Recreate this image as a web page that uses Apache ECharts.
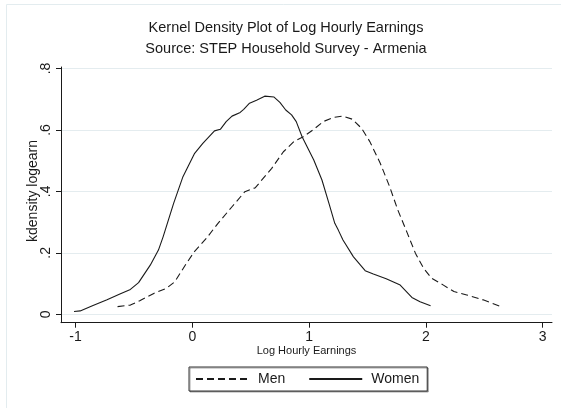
<!DOCTYPE html>
<html>
<head>
<meta charset="utf-8">
<script src="https://cdn.jsdelivr.net/npm/echarts@6/dist/echarts.min.js"></script>
<style>
html,body{margin:0;padding:0;background:#fff;}
#c{width:561px;height:408px;}
</style>
</head>
<body>
<div id="c"></div>
<script>
// Tick labels / categories
const xTicks = [-1, 0, 1, 2, 3];
const yTicks = [0, 0.2, 0.4, 0.6, 0.8];
const seriesNames = ['Men', 'Women'];

// Kernel density estimates: [log hourly earnings, density]
const menX = [-0.64,-0.53,-0.45,-0.33,-0.22,-0.15,-0.05,0.02,0.12,0.22,0.34,0.45,0.54,0.59,0.68,0.78,0.87,0.95,1.04,1.12,1.21,1.29,1.37,1.45,1.52,1.61,1.69,1.76,1.84,1.91,1.98,2.05,2.15,2.24,2.35,2.49,2.63];
const menY = [0.025,0.030,0.044,0.068,0.085,0.106,0.166,0.205,0.247,0.296,0.350,0.399,0.412,0.435,0.475,0.529,0.562,0.578,0.602,0.627,0.641,0.645,0.635,0.605,0.562,0.491,0.415,0.339,0.265,0.199,0.150,0.117,0.095,0.074,0.063,0.047,0.027];

const womenX = [-1.047,-0.96,-0.85,-0.73,-0.62,-0.53,-0.46,-0.36,-0.29,-0.25,-0.16,-0.08,0.02,0.09,0.19,0.24,0.29,0.34,0.41,0.44,0.49,0.55,0.62,0.70,0.75,0.80,0.85,0.89,0.94,1.04,1.11,1.17,1.22,1.25,1.29,1.38,1.48,1.55,1.66,1.78,1.88,1.95,2.04];
const womenY = [0.008,0.011,0.029,0.047,0.066,0.081,0.103,0.160,0.209,0.252,0.361,0.448,0.524,0.556,0.597,0.602,0.627,0.645,0.657,0.667,0.687,0.697,0.710,0.707,0.690,0.665,0.649,0.627,0.578,0.502,0.437,0.361,0.296,0.274,0.242,0.187,0.142,0.131,0.116,0.095,0.055,0.041,0.028];

const FONT = '"Liberation Sans", Arial, Helvetica, sans-serif';
const INK = '#1a1a1a';

const chart = echarts.init(document.getElementById('c'), null, {renderer: 'canvas'});

const pair = (xs, ys) => xs.map((x, i) => [x, ys[i]]);

const option = {
  backgroundColor: '#ffffff',
  animation: false,
  graphic: [
    {type: 'line', shape: {x1: 6.5, y1: 4.5, x2: 561, y2: 4.5}, style: {stroke: '#e3ecef', lineWidth: 1}, silent: true},
    {type: 'line', shape: {x1: 6.5, y1: 4.5, x2: 6.5, y2: 408}, style: {stroke: '#e3ecef', lineWidth: 1}, silent: true},
    {type: 'text', x: 286, y: 28, style: {text: 'Kernel Density Plot of Log Hourly Earnings', font: '14.5px ' + FONT, fill: INK, align: 'center', verticalAlign: 'middle'}},
    {type: 'text', x: 286, y: 49, style: {text: 'Source: STEP Household Survey - Armenia', font: '14.5px ' + FONT, fill: INK, align: 'center', verticalAlign: 'middle'}},
    {type: 'text', x: 33, y: 191, rotation: Math.PI / 2, style: {text: 'kdensity logearn', font: '14px ' + FONT, fill: INK, align: 'center', verticalAlign: 'middle'}}
  ],
  grid: [
    {left: 75.5, right: 18.3, top: 68.5, bottom: 93.7, containLabel: false},
    {left: 61, right: 9, top: 68.5, bottom: 93.7, containLabel: false},
    {left: 61, right: 9, top: 67, bottom: 85.3, containLabel: false}
  ],
  xAxis: [
    {
      gridIndex: 0, type: 'value', min: xTicks[0], max: xTicks[xTicks.length - 1], interval: 1,
      position: 'bottom', offset: 8.4,
      axisLine: {show: false, onZero: false},
      axisTick: {show: true, length: 5, inside: false, lineStyle: {color: INK, width: 1}},
      axisLabel: {show: true, margin: 7, color: INK, fontSize: 14, fontFamily: FONT,
        formatter: v => String(v)},
      splitLine: {show: false}
    },
    {
      gridIndex: 1, type: 'value', min: xTicks[0], max: xTicks[xTicks.length - 1], show: false,
      axisLine: {onZero: false}
    },
    {
      gridIndex: 2, type: 'value', min: 0, max: 1,
      axisLine: {show: true, onZero: false, lineStyle: {color: INK, width: 1}},
      axisTick: {show: false}, axisLabel: {show: false}, splitLine: {show: false},
      name: 'Log Hourly Earnings', nameLocation: 'middle', nameGap: 23,
      nameTextStyle: {color: INK, fontSize: 11, fontFamily: FONT}
    }
  ],
  yAxis: [
    {
      gridIndex: 0, type: 'value', min: yTicks[0], max: yTicks[yTicks.length - 1], show: false,
      axisLine: {onZero: false}
    },
    {
      gridIndex: 1, type: 'value', min: yTicks[0], max: yTicks[yTicks.length - 1], interval: 0.2,
      position: 'left',
      axisLine: {show: false, onZero: false},
      axisTick: {show: true, length: 5, inside: false, lineStyle: {color: INK, width: 1}},
      axisLabel: {show: true, rotate: 90, margin: 8, color: INK, fontSize: 14, fontFamily: FONT,
        formatter: v => {
          const r = Math.round(v * 10) / 10;
          return r === 0 ? '0' : String(r).replace(/^0/, '');
        }},
      splitLine: {show: true, lineStyle: {color: '#e4ecef', width: 1}}
    },
    {
      gridIndex: 2, type: 'value', min: 0, max: 1,
      axisLine: {show: true, onZero: false, lineStyle: {color: INK, width: 1}},
      axisTick: {show: false}, axisLabel: {show: false}, splitLine: {show: false}
    }
  ],
  legend: {
    data: seriesNames,
    left: 189, top: 367,
    orient: 'horizontal',
    padding: [5, 8, 5, 6],
    itemWidth: 53, itemHeight: 14, itemGap: 23,
    borderColor: '#333333', borderWidth: 1, backgroundColor: '#ffffff',
    shadowColor: 'rgba(0,0,0,0.35)', shadowOffsetX: 1, shadowOffsetY: 1, shadowBlur: 0,
    textStyle: {color: INK, fontSize: 14, fontFamily: FONT, padding: [0, 0, 0, 4]},
    itemStyle: {opacity: 0}
  },
  series: [
    {
      name: seriesNames[0], type: 'line', xAxisIndex: 0, yAxisIndex: 0,
      data: pair(menX, menY), showSymbol: false, symbol: 'none', smooth: false,
      lineStyle: {color: INK, width: 1.1, type: [7, 4]}, itemStyle: {color: INK}
    },
    {
      name: seriesNames[1], type: 'line', xAxisIndex: 0, yAxisIndex: 0,
      data: pair(womenX, womenY), showSymbol: false, symbol: 'none', smooth: false,
      lineStyle: {color: INK, width: 1.1, type: 'solid'}, itemStyle: {color: INK}
    }
  ]
};
chart.setOption(option);
</script>
</body>
</html>
